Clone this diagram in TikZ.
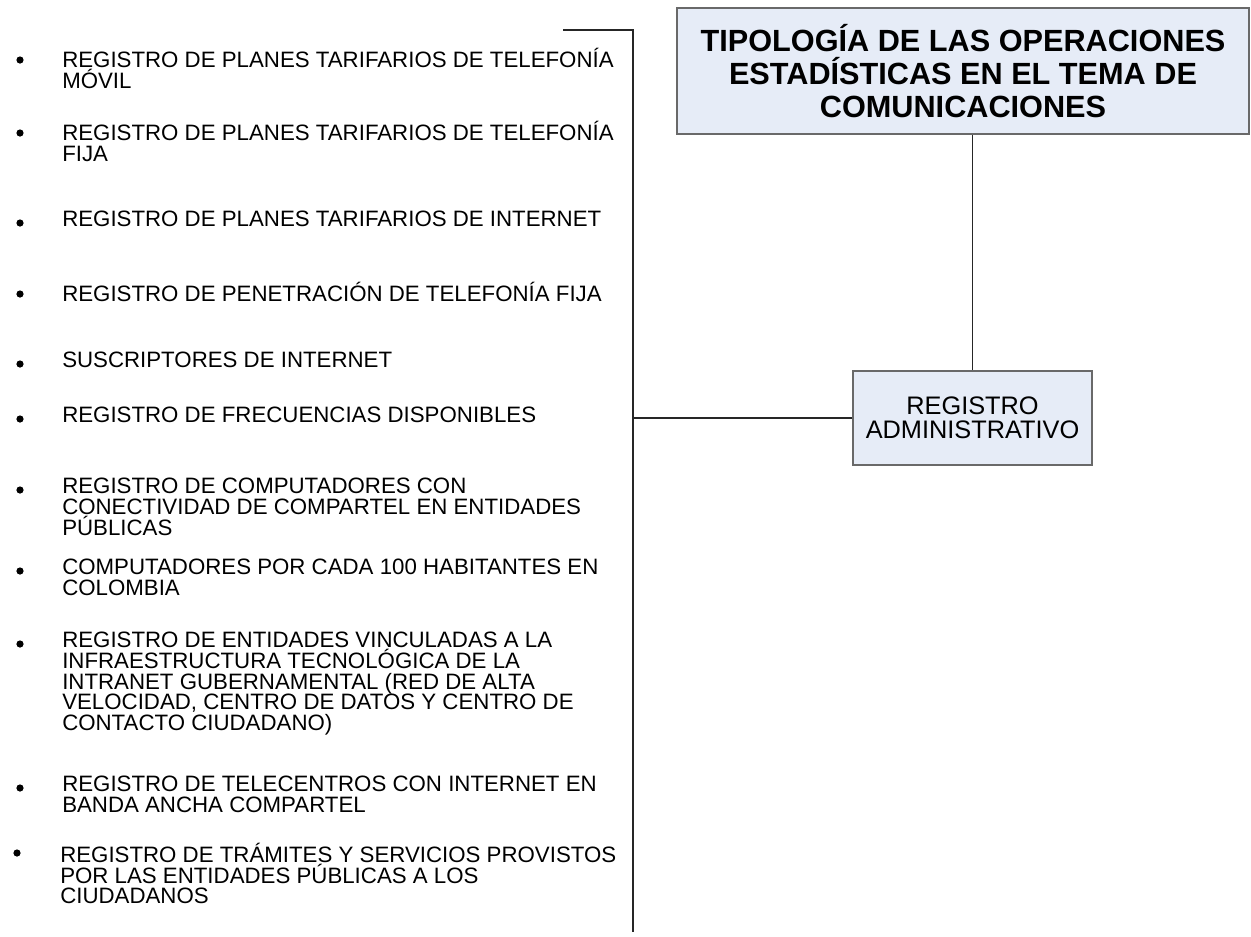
\documentclass[tikz,border=0pt]{standalone}
\usepackage{fontspec}
\setmainfont{Liberation Sans}
\definecolor{boxfill}{RGB}{230,236,247}
\definecolor{boxline}{RGB}{105,105,105}

\begin{document}
\begin{tikzpicture}[x=0.75pt,y=-0.75pt,
    box/.style={draw=boxline,line width=1.1pt,fill=boxfill,align=center},
    item/.style={anchor=north west,inner sep=0pt,align=left,
                 font=\fontsize{16.7}{15.5}\selectfont},
    dot/.style={circle,fill,inner sep=0pt,minimum size=5.4pt},
    link/.style={draw=black!85,line width=0.8pt}]

            \useasboundingbox (0,0) rectangle (1251,936);

            \path   (963,71) node (tipo) [box,minimum width=429pt,minimum height=94.5pt,
                        font=\fontsize{23}{24.75}\selectfont\bfseries]
                        {TIPOLOGÍA DE LAS OPERACIONES\\ESTADÍSTICAS EN EL TEMA DE\\COMUNICACIONES}
                    (972.5,418) node (reg) [box,minimum width=179.25pt,minimum height=70.5pt,
                        font=\fontsize{19}{18}\selectfont]
                        {REGISTRO\\ADMINISTRATIVO};

            % listado de operaciones
            \path   (62,48)  node (i1)  [item] {REGISTRO DE PLANES TARIFARIOS DE TELEFONÍA\\MÓVIL}
                    (62,121) node (i2)  [item] {REGISTRO DE PLANES TARIFARIOS DE TELEFONÍA\\FIJA}
                    (62,211) node (i3)  [item] {REGISTRO DE PLANES TARIFARIOS DE INTERNET}
                    (62,282) node (i4)  [item] {REGISTRO DE PENETRACIÓN DE TELEFONÍA FIJA}
                    (62,352) node (i5)  [item] {SUSCRIPTORES DE INTERNET}
                    (62,407) node (i6)  [item] {REGISTRO DE FRECUENCIAS DISPONIBLES}
                    (62,478) node (i7)  [item] {REGISTRO DE COMPUTADORES CON\\CONECTIVIDAD DE COMPARTEL EN ENTIDADES\\PÚBLICAS}
                    (62,559) node (i8)  [item] {COMPUTADORES POR CADA 100 HABITANTES EN\\COLOMBIA}
                    (62,632) node (i9)  [item] {REGISTRO DE ENTIDADES VINCULADAS A LA\\INFRAESTRUCTURA TECNOLÓGICA DE LA\\INTRANET GUBERNAMENTAL (RED DE ALTA\\VELOCIDAD, CENTRO DE DATOS Y CENTRO DE\\CONTACTO CIUDADANO)}
                    (62,776) node (i10) [item] {REGISTRO DE TELECENTROS CON INTERNET EN\\BANDA ANCHA COMPARTEL}
                    (60,843) node (i11) [item] {REGISTRO DE TRÁMITES Y SERVICIOS PROVISTOS\\POR LAS ENTIDADES PÚBLICAS A LOS\\CIUDADANOS};

            \foreach \y in {60,133,223,294,364,419,490,571,644,788}
                \node[dot] at (20,\y) {};
            \node[dot] at (17,853) {};

            % llave del listado
            \coordinate (btop) at (563,30);
            \coordinate (bbot) at (633,932);
            \draw[link] (btop) -| (bbot);
            \draw[link] (reg.west) -- (reg.west -| bbot);
            \draw[link] (reg.north |- tipo.south) -- (reg.north);

        \end{tikzpicture}
\end{document}
